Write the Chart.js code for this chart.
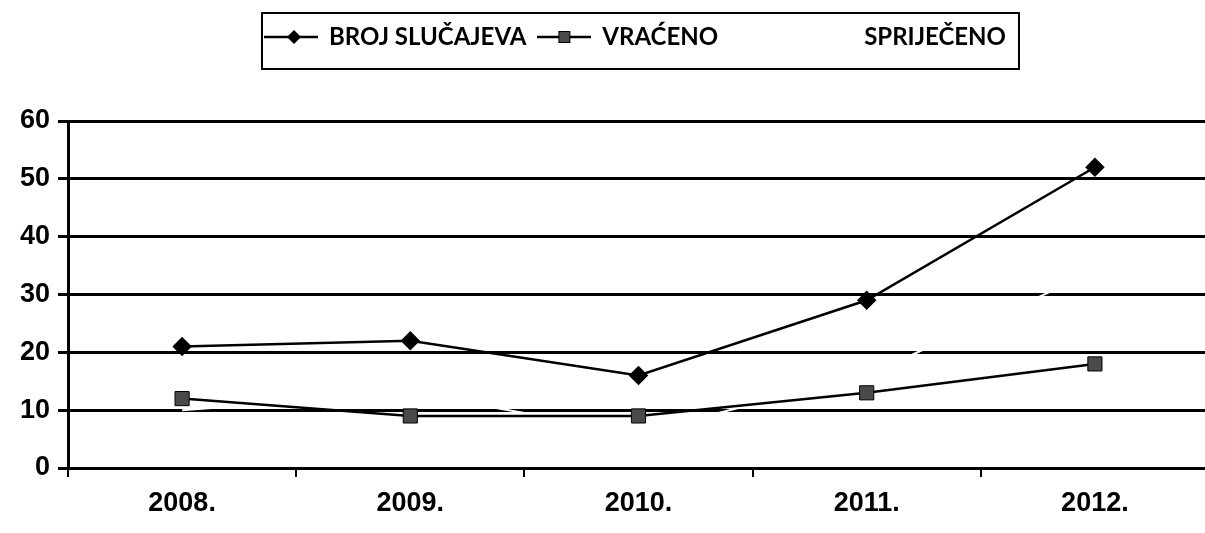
<!DOCTYPE html>
<html>
<head>
<meta charset="utf-8">
<script src="https://cdn.jsdelivr.net/npm/chart.js@4"></script>
<style>
  html, body { margin: 0; padding: 0; background: #fff; overflow: hidden; }
  #wrap { position: relative; width: 1220px; height: 533px; }
</style>
</head>
<body>
<div id="wrap"><canvas id="chart"></canvas></div>
<script>
const YEARS = ['2008.', '2009.', '2010.', '2011.', '2012.'];
const BROJ_SLUCAJEVA = [21, 22, 16, 29, 52];
const VRACENO = [12, 9, 9, 13, 18];
const SPRIJECENO = [10, 13, 6, 16, 34];
const Y_MIN = 0;
const Y_MAX = 60;
const Y_STEP = 10;

const LEGEND_FONT = "Lato, 'Liberation Sans', sans-serif";
const TICK_FONT = "'Liberation Sans', Arial, sans-serif";
const LEGEND_LEFT = 265;

// small canvas used as legend symbol: line with marker in the middle
function legendIcon(marker) {
  const c = document.createElement('canvas');
  c.width = 54;
  c.height = 18;
  const g = c.getContext('2d');
  g.strokeStyle = marker === 'none' ? '#fff' : '#000';
  g.lineWidth = 2.5;
  g.beginPath();
  g.moveTo(0, 9);
  g.lineTo(54, 9);
  g.stroke();
  if (marker === 'diamond') {
    g.fillStyle = '#000';
    g.beginPath();
    g.moveTo(30, 2); g.lineTo(37, 9); g.lineTo(30, 16); g.lineTo(23, 9);
    g.closePath();
    g.fill();
  } else if (marker === 'square') {
    g.fillStyle = '#4a4a4a';
    g.fillRect(21, 3, 12, 12);
    g.strokeStyle = '#000';
    g.lineWidth = 1;
    g.strokeRect(21.5, 3.5, 11, 11);
  }
  return c;
}

const ICONS = [legendIcon('diamond'), legendIcon('square'), legendIcon('none')];
const LEGEND_TEXT = ['BROJ SLUČAJEVA', 'VRAĆENO' + ' '.repeat(12), 'SPRIJEČENO'];

const legendFrame = {
  id: 'legendFrame',
  beforeInit(chart) {
    const fit = chart.legend.fit;
    chart.legend.fit = function () {
      fit.call(this);
      this.height = 108;
    };
  },
  afterLayout(chart) {
    const lg = chart.legend;
    const shift = LEGEND_LEFT - (lg.left + lg.options.labels.padding);
    lg.left += shift;
    lg.right += shift;
  },
  afterDraw(chart) {
    const boxes = chart.legend.legendHitBoxes;
    if (!boxes || !boxes.length) return;
    const left = Math.min(...boxes.map(b => b.left)) - 3;
    const right = Math.max(...boxes.map(b => b.left + b.width)) + 13;
    const top = boxes[0].top - 12;
    const bottom = boxes[0].top + boxes[0].height + 20;
    const ctx = chart.ctx;
    ctx.save();
    ctx.strokeStyle = '#000';
    ctx.lineWidth = 2;
    ctx.strokeRect(left, top, right - left, bottom - top);
    ctx.restore();
  }
};

new Chart(document.getElementById('chart'), {
  type: 'line',
  data: {
    labels: YEARS,
    datasets: [
      {
        label: 'BROJ SLUČAJEVA',
        data: BROJ_SLUCAJEVA,
        borderColor: '#000',
        borderWidth: 2.5,
        pointStyle: 'rectRot',
        pointRadius: 8,
        pointBackgroundColor: '#000',
        pointBorderColor: '#000',
        tension: 0,
      },
      {
        label: 'VRAĆENO',
        data: VRACENO,
        borderColor: '#000',
        borderWidth: 2.5,
        pointStyle: 'rect',
        pointRadius: 10,
        pointBackgroundColor: '#4a4a4a',
        pointBorderColor: '#000',
        pointBorderWidth: 1,
        tension: 0,
      },
      {
        label: 'SPRIJEČENO',
        data: SPRIJECENO,
        borderColor: '#fff',
        borderWidth: 2,
        pointRadius: 0,
        tension: 0,
      },
    ],
  },
  options: {
    responsive: true,
    maintainAspectRatio: false,
    animation: false,
    layout: { padding: { top: 13, left: 0, right: 2, bottom: 0 } },
    plugins: {
      tooltip: { enabled: false },
      legend: {
        position: 'top',
        align: 'start',
        labels: {
          usePointStyle: true,
          pointStyleWidth: 52,
          padding: 12,
          color: '#000',
          font: { family: LEGEND_FONT, size: 24, weight: 'bold' },
          generateLabels: chart => chart.data.datasets.map((ds, i) => ({
            text: LEGEND_TEXT[i],
            pointStyle: ICONS[i],
            fillStyle: '#000',
            strokeStyle: '#000',
            lineWidth: 0,
            hidden: false,
            datasetIndex: i,
            fontColor: '#000',
          })),
        },
      },
    },
    scales: {
      x: {
        offset: true,
        grid: {
          offset: true,
          drawOnChartArea: false,
          drawTicks: true,
          tickLength: 9,
          color: '#000',
          lineWidth: 2,
        },
        border: { display: false },
        ticks: {
          color: '#000',
          padding: 10,
          maxRotation: 0,
          font: { family: TICK_FONT, size: 27, weight: 'bold' },
        },
        afterFit(scale) { scale.height = 65; },
      },
      y: {
        min: Y_MIN,
        max: Y_MAX,
        ticks: {
          stepSize: Y_STEP,
          color: '#000',
          padding: 8,
          font: { family: TICK_FONT, size: 27, weight: 'bold' },
        },
        grid: { color: '#000', lineWidth: 3, tickLength: 10 },
        border: { color: '#000', width: 3 },
        afterFit(scale) { scale.width = 68; },
      },
    },
  },
  plugins: [legendFrame],
});
</script>
</body>
</html>
